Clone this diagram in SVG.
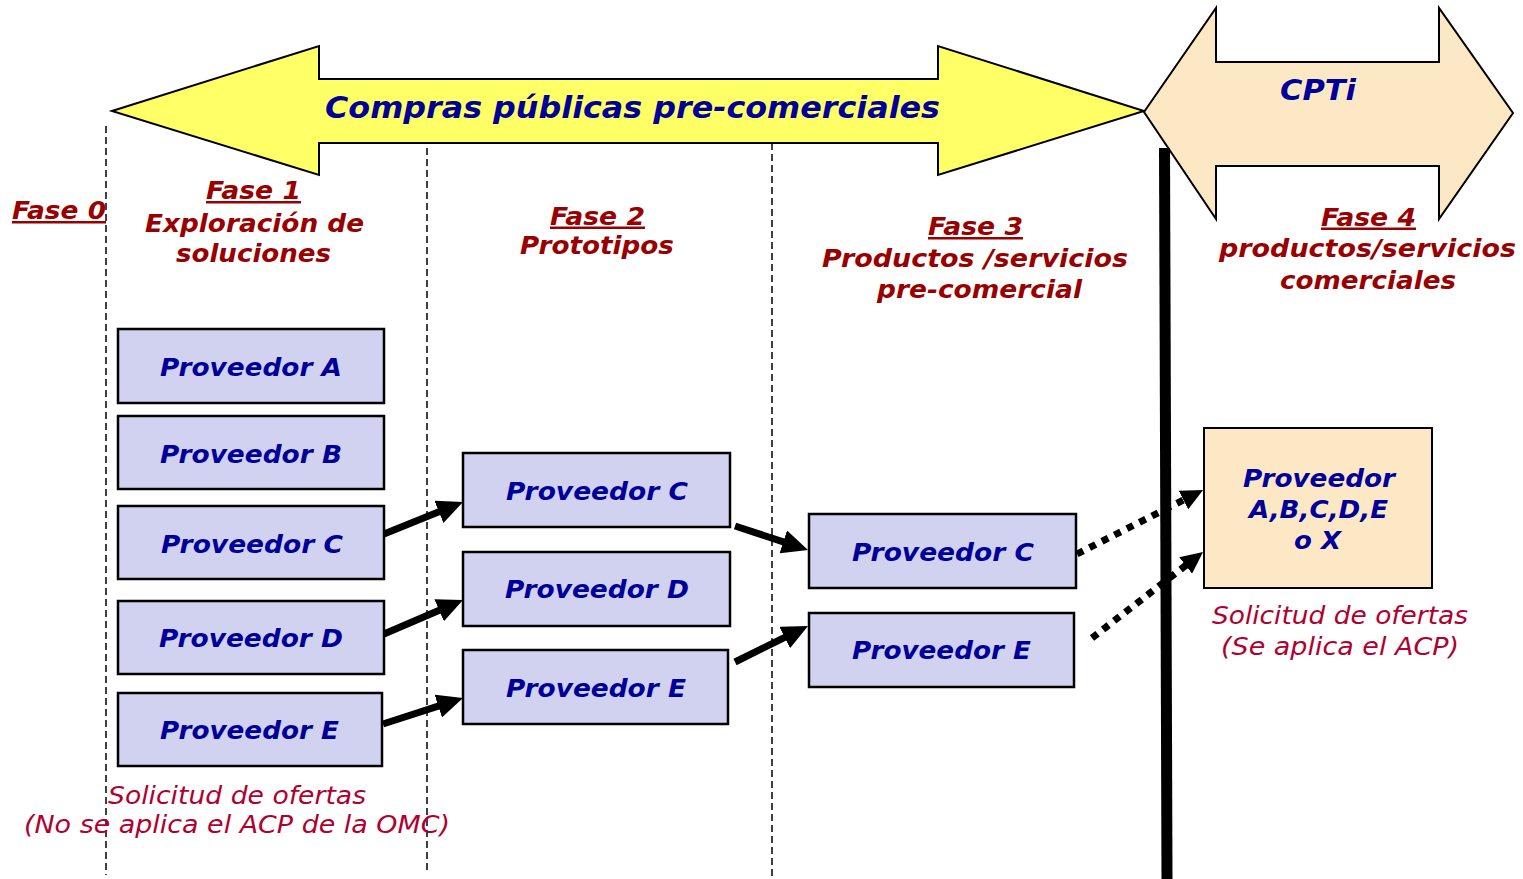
<svg xmlns="http://www.w3.org/2000/svg" width="1523" height="879" viewBox="0 0 1523 879">
<style>
.b{font-family:"DejaVu Sans","Liberation Sans",sans-serif;font-weight:bold;font-style:italic}
.n{fill:#000099}
.r{fill:#990000}
.u{text-decoration:underline}
.s{font-family:"DejaVu Sans","Liberation Sans",sans-serif;font-style:italic;fill:#B0002F;font-size:25px}
.box{fill:#D1D2F0;stroke:#000;stroke-width:2.5}
.fin{fill:#FDE8C6;stroke:#000;stroke-width:2}
.dash{stroke:#000;stroke-width:1.5;stroke-dasharray:7 4;fill:none}
.ar{stroke:#000;stroke-width:7;fill:none}
.dot{stroke:#000;stroke-width:7;stroke-dasharray:7 7;fill:none}
</style>
<defs>
<marker id="ah" markerUnits="userSpaceOnUse" viewBox="0 0 26 24" refX="4" refY="12" markerWidth="26" markerHeight="24" orient="auto">
<path d="M0,0 L26,12 L0,24 Z" fill="#000"/>
</marker>
<marker id="ahs" markerUnits="userSpaceOnUse" viewBox="0 0 22 21" refX="4" refY="10.5" markerWidth="22" markerHeight="21" orient="auto">
<path d="M0,0 L22,10.5 L0,21 Z" fill="#000"/>
</marker>
</defs>
<rect width="1523" height="879" fill="#fff"/>

<g id="dividers">
<line class="dash" x1="106" y1="126" x2="106" y2="875"/>
<line class="dash" x1="427" y1="148" x2="427" y2="872"/>
<line class="dash" x1="772" y1="143" x2="772" y2="877"/>
</g>

<g id="arrow-precommercial">
<path d="M112,111 L319,46 L319,79 L938,79 L938,46 L1144,111 L938,175 L938,143 L319,143 L319,175 Z" fill="#FFFF66" stroke="#000" stroke-width="2"/>
<text class="b n" x="325" y="118" font-size="31" textLength="615" lengthAdjust="spacingAndGlyphs">Compras públicas pre-comerciales</text>
</g>

<g id="arrow-cpti">
<path d="M1144,112 L1216,8 L1216,62 L1439,62 L1439,8 L1513,113 L1439,219 L1439,166 L1216,166 L1216,219 Z" fill="#FDE8C6" stroke="#000" stroke-width="2"/>
<text class="b n" x="1280" y="100" font-size="29" textLength="76" lengthAdjust="spacingAndGlyphs">CPTi</text>
</g>

<g id="barrier">
<path d="M1159,148 L1170,148 L1172.5,879 L1161.5,879 Z" fill="#000"/>
</g>

<g id="phase-labels">
<text class="b r u" x="12" y="219" font-size="25" textLength="94" lengthAdjust="spacingAndGlyphs">Fase 0</text>
<text class="b r u" x="206" y="199" font-size="25" textLength="95" lengthAdjust="spacingAndGlyphs">Fase 1</text>
<text class="b r" x="145" y="231.5" font-size="25.5" textLength="219" lengthAdjust="spacingAndGlyphs">Exploración de</text>
<text class="b r" x="176" y="262" font-size="25.5" textLength="155" lengthAdjust="spacingAndGlyphs">soluciones</text>
<text class="b r u" x="550" y="224.5" font-size="25" textLength="95" lengthAdjust="spacingAndGlyphs">Fase 2</text>
<text class="b r" x="520" y="254" font-size="25.5" textLength="154" lengthAdjust="spacingAndGlyphs">Prototipos</text>
<text class="b r u" x="928" y="235" font-size="25" textLength="95" lengthAdjust="spacingAndGlyphs">Fase 3</text>
<text class="b r" x="822" y="267" font-size="25.5" textLength="306" lengthAdjust="spacingAndGlyphs">Productos /servicios</text>
<text class="b r" x="877" y="297.5" font-size="25.5" textLength="205" lengthAdjust="spacingAndGlyphs">pre-comercial</text>
<text class="b r u" x="1321" y="225.5" font-size="25" textLength="95" lengthAdjust="spacingAndGlyphs">Fase 4</text>
<text class="b r" x="1219" y="257" font-size="25.5" textLength="297" lengthAdjust="spacingAndGlyphs">productos/servicios</text>
<text class="b r" x="1280" y="289" font-size="25.5" textLength="176" lengthAdjust="spacingAndGlyphs">comerciales</text>
</g>

<g id="connectors">
<line class="ar" x1="384" y1="534" x2="442.6" y2="510.3" marker-end="url(#ah)"/>
<line class="ar" x1="384" y1="634" x2="442.8" y2="608.7" marker-end="url(#ah)"/>
<line class="ar" x1="383" y1="724" x2="442.1" y2="704.8" marker-end="url(#ah)"/>
<line class="ar" x1="735" y1="526" x2="787.1" y2="543.1" marker-end="url(#ah)"/>
<line class="ar" x1="735" y1="662" x2="788.3" y2="635.7" marker-end="url(#ah)"/>
<line class="dot" x1="1077" y1="554" x2="1187" y2="498.2" marker-end="url(#ahs)"/>
<line class="dot" x1="1092" y1="638" x2="1188.8" y2="563" marker-end="url(#ahs)"/>
</g>

<g id="f1-a"><rect class="box" x="118" y="329" width="266" height="74"/><text class="b n" x="160" y="376" font-size="24.5" textLength="182" lengthAdjust="spacingAndGlyphs">Proveedor A</text></g>
<g id="f1-b"><rect class="box" x="118" y="416" width="266" height="73"/><text class="b n" x="160" y="463" font-size="24.5" textLength="182" lengthAdjust="spacingAndGlyphs">Proveedor B</text></g>
<g id="f1-c"><rect class="box" x="118" y="506" width="266" height="73"/><text class="b n" x="161" y="553" font-size="24.5" textLength="182" lengthAdjust="spacingAndGlyphs">Proveedor C</text></g>
<g id="f1-d"><rect class="box" x="118" y="601" width="266" height="73"/><text class="b n" x="159" y="647" font-size="24.5" textLength="184" lengthAdjust="spacingAndGlyphs">Proveedor D</text></g>
<g id="f1-e"><rect class="box" x="118" y="693" width="264" height="73"/><text class="b n" x="160" y="739" font-size="24.5" textLength="179" lengthAdjust="spacingAndGlyphs">Proveedor E</text></g>

<g id="f2-c"><rect class="box" x="463" y="453" width="267" height="74"/><text class="b n" x="506" y="500" font-size="24.5" textLength="182" lengthAdjust="spacingAndGlyphs">Proveedor C</text></g>
<g id="f2-d"><rect class="box" x="463" y="552" width="267" height="74"/><text class="b n" x="505" y="598" font-size="24.5" textLength="184" lengthAdjust="spacingAndGlyphs">Proveedor D</text></g>
<g id="f2-e"><rect class="box" x="463" y="650" width="265" height="74"/><text class="b n" x="506" y="697" font-size="24.5" textLength="180" lengthAdjust="spacingAndGlyphs">Proveedor E</text></g>

<g id="f3-c"><rect class="box" x="809" y="514" width="267" height="74"/><text class="b n" x="852" y="561" font-size="24.5" textLength="182" lengthAdjust="spacingAndGlyphs">Proveedor C</text></g>
<g id="f3-e"><rect class="box" x="809" y="613" width="265" height="74"/><text class="b n" x="852" y="659" font-size="24.5" textLength="179" lengthAdjust="spacingAndGlyphs">Proveedor E</text></g>

<g id="f4-final">
<rect class="fin" x="1204" y="428" width="228" height="160"/>
<text class="b n" x="1243" y="487" font-size="24.5" textLength="152" lengthAdjust="spacingAndGlyphs">Proveedor</text>
<text class="b n" x="1249" y="518" font-size="24.5" textLength="139" lengthAdjust="spacingAndGlyphs">A,B,C,D,E</text>
<text class="b n" x="1294" y="549" font-size="24.5" textLength="47" lengthAdjust="spacingAndGlyphs">o X</text>
</g>

<g id="notes">
<text class="s" x="108" y="804" textLength="258" lengthAdjust="spacingAndGlyphs">Solicitud de ofertas</text>
<text class="s" x="24" y="833" textLength="426" lengthAdjust="spacingAndGlyphs">(No se aplica el ACP de la OMC)</text>
<text class="s" x="1212" y="624" textLength="256" lengthAdjust="spacingAndGlyphs">Solicitud de ofertas</text>
<text class="s" x="1221" y="655" textLength="238" lengthAdjust="spacingAndGlyphs">(Se aplica el ACP)</text>
</g>
</svg>
